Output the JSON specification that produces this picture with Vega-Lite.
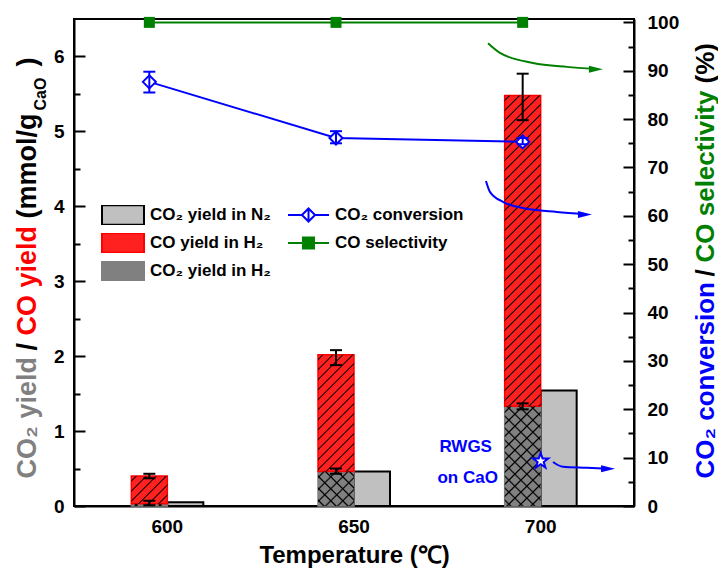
{
"$schema": "https://vega.github.io/schema/vega-lite/v6.json",
"width": 560, "height": 487,
"autosize": {"type": "none"},
"padding": {"left": 74, "top": 19, "right": 84, "bottom": 68},
"background": "white",
"config": {
 "font": "Liberation Sans",
 "view": {"stroke": "black", "strokeWidth": 2},
 "axis": {"labelFont": "Liberation Sans", "labelFontWeight": "bold", "labelFontSize": 19, "labelColor": "black", "titleFont": "Liberation Sans", "titleFontWeight": "bold", "titleFontSize": 27, "titleColor": "black", "domainColor": "black", "domainWidth": 2, "tickColor": "black", "tickWidth": 2, "grid": false},
 "legend": {"labelFont": "Liberation Sans", "labelFontWeight": "bold", "labelFontSize": 17, "labelColor": "black", "padding": 0, "labelLimit": 300}
},
"datasets": {
 "bars": [
  {"T":"600","cond":"N2","series":"CO₂ yield in N₂","value":0.05},
  {"T":"650","cond":"N2","series":"CO₂ yield in N₂","value":0.46},
  {"T":"700","cond":"N2","series":"CO₂ yield in N₂","value":1.54},
  {"T":"600","cond":"H2","series":"CO₂ yield in H₂","value":0.03},
  {"T":"650","cond":"H2","series":"CO₂ yield in H₂","value":0.46},
  {"T":"700","cond":"H2","series":"CO₂ yield in H₂","value":1.33},
  {"T":"600","cond":"H2","series":"CO yield in H₂","value":0.37},
  {"T":"650","cond":"H2","series":"CO yield in H₂","value":1.56},
  {"T":"700","cond":"H2","series":"CO yield in H₂","value":4.15}
 ],
 "barerr": [
  {"T":"600","cond":"H2","lo":0.01,"hi":0.07},
  {"T":"600","cond":"H2","lo":0.37,"hi":0.43},
  {"T":"650","cond":"H2","lo":0.43,"hi":0.50},
  {"T":"650","cond":"H2","lo":1.88,"hi":2.08},
  {"T":"700","cond":"H2","lo":1.29,"hi":1.37},
  {"T":"700","cond":"H2","lo":5.15,"hi":5.77}
 ],
 "lines": [
  {"T":"600","cond":"H2","series":"CO₂ conversion","pct":87.7,"lo":85.5,"hi":89.8},
  {"T":"650","cond":"H2","series":"CO₂ conversion","pct":76.1,"lo":75.0,"hi":77.5},
  {"T":"700","cond":"H2","series":"CO₂ conversion","pct":75.3,"lo":74.8,"hi":76.1},
  {"T":"600","cond":"H2","series":"CO selectivity","pct":100},
  {"T":"650","cond":"H2","series":"CO selectivity","pct":100},
  {"T":"700","cond":"H2","series":"CO selectivity","pct":100}
 ],
 "rwgs": [{"T":"700","line1":"RWGS","line2":"on CaO","pct":9.3}],
 "arrows": [
  {"id":"g","x":2.218,"y":95.7},{"id":"g","x":2.282,"y":93.7},{"id":"g","x":2.459,"y":91.6},{"id":"g","x":2.641,"y":90.8},{"id":"g","x":2.791,"y":90.4},
  {"id":"b1","x":2.207,"y":67.2},{"id":"b1","x":2.229,"y":64.9},{"id":"b1","x":2.298,"y":62.9},{"id":"b1","x":2.405,"y":61.6},{"id":"b1","x":2.587,"y":60.8},{"id":"b1","x":2.737,"y":60.4},
  {"id":"b2","x":2.566,"y":9.1},{"id":"b2","x":2.62,"y":8.1},{"id":"b2","x":2.748,"y":7.9},{"id":"b2","x":2.861,"y":7.7}
 ],
 "heads": [
  {"id":"g","x":2.796,"y":90.3},{"id":"b1","x":2.737,"y":60.3},{"id":"b2","x":2.861,"y":7.7}
 ]
},
"layer": [
 {
  "data": {"name": "bars"},
  "transform": [{"stack": "value", "groupby": ["T","cond"], "sort": [{"field": "series", "order": "descending"}], "as": ["v0","v1"]}],
  "encoding": {
   "x": {"field": "T", "type": "nominal", "scale": {"domain": ["600","650","700"], "paddingInner": 0.6143, "paddingOuter": 0.30715}, "axis": {"title": "Temperature (℃)", "titleFontSize": 24, "labelAngle": 0, "ticks": false, "labelPadding": 11, "titlePadding": 7}},
   "xOffset": {"field": "cond", "type": "nominal", "scale": {"domain": ["H2","N2"], "paddingInner": 0, "paddingOuter": 0}},
   "y": {"field": "v0", "type": "quantitative", "scale": {"domain": [0, 6.5], "nice": false}, "axis": {"values": [0,1,2,3,4,5,6], "tickSize": -11, "labelPadding": 21, "title": "CO₂ yield", "titleColor": "#808080", "titleX": -39, "titleY": 459, "titleAngle": 270, "titleAlign": "left", "titleBaseline": "alphabetic"}},
   "y2": {"field": "v1"}
  },
  "layer": [
   {
    "transform": [{"filter": "datum.cond === 'N2'"}],
    "mark": {"type": "bar", "strokeWidth": 2},
    "encoding": {
     "fill": {"field": "series", "type": "nominal", "scale": {"domain": ["CO₂ yield in N₂","CO yield in H₂","CO₂ yield in H₂"], "range": ["#c0c0c0","#ff2020","#808080"]}, "legend": {"orient": "none", "legendX": 27, "legendY": 186, "title": null, "symbolType": "M-1,-0.47H1V0.47H-1Z", "symbolSize": 1764, "clipHeight": 20, "rowPadding": 8, "labelOffset": 5, "symbolStrokeWidth": 2}},
     "stroke": {"field": "series", "type": "nominal", "scale": {"domain": ["CO₂ yield in N₂","CO yield in H₂","CO₂ yield in H₂"], "range": ["black","#ff0000","#808080"]}, "legend": {"orient": "none", "legendX": 27, "legendY": 186, "title": null, "symbolType": "M-1,-0.47H1V0.47H-1Z", "symbolSize": 1764, "clipHeight": 20, "rowPadding": 8, "labelOffset": 5, "symbolStrokeWidth": 2}}
    }
   },
   {
    "transform": [{"filter": "datum.cond === 'H2'"}],
    "mark": {"type": "bar", "strokeWidth": 1.5},
    "encoding": {
     "fill": {"field": "series", "type": "nominal", "scale": {"domain": ["CO₂ yield in N₂","CO yield in H₂","CO₂ yield in H₂"], "range": ["#c0c0c0","#ff2020","#808080"]}},
     "stroke": {"field": "series", "type": "nominal", "scale": {"domain": ["CO₂ yield in N₂","CO yield in H₂","CO₂ yield in H₂"], "range": ["black","#ff0000","#808080"]}}
    }
   },
   {
    "transform": [{"filter": "datum.cond === 'H2'"}],
    "mark": {"type": "bar", "strokeWidth": 0, "fill": {"expr": "{gradient:'linear',x1:0,y1:0,x2:36*(datum.series=='CO yield in H₂'?350:420)/(1296+pow((datum.v1-datum.v0)*74.923,2)),y2:(datum.v1-datum.v0)*74.923*(datum.series=='CO yield in H₂'?350:420)/(1296+pow((datum.v1-datum.v0)*74.923,2)),stops:[{offset:0.0103,color:'rgba(0,0,0,0)'},{offset:0.0143,color:'#000'},{offset:0.0183,color:'rgba(0,0,0,0)'},{offset:0.0389,color:'rgba(0,0,0,0)'},{offset:0.0429,color:'#000'},{offset:0.0469,color:'rgba(0,0,0,0)'},{offset:0.0674,color:'rgba(0,0,0,0)'},{offset:0.0714,color:'#000'},{offset:0.0754,color:'rgba(0,0,0,0)'},{offset:0.096,color:'rgba(0,0,0,0)'},{offset:0.1,color:'#000'},{offset:0.104,color:'rgba(0,0,0,0)'},{offset:0.1246,color:'rgba(0,0,0,0)'},{offset:0.1286,color:'#000'},{offset:0.1326,color:'rgba(0,0,0,0)'},{offset:0.1531,color:'rgba(0,0,0,0)'},{offset:0.1571,color:'#000'},{offset:0.1611,color:'rgba(0,0,0,0)'},{offset:0.1817,color:'rgba(0,0,0,0)'},{offset:0.1857,color:'#000'},{offset:0.1897,color:'rgba(0,0,0,0)'},{offset:0.2103,color:'rgba(0,0,0,0)'},{offset:0.2143,color:'#000'},{offset:0.2183,color:'rgba(0,0,0,0)'},{offset:0.2389,color:'rgba(0,0,0,0)'},{offset:0.2429,color:'#000'},{offset:0.2469,color:'rgba(0,0,0,0)'},{offset:0.2674,color:'rgba(0,0,0,0)'},{offset:0.2714,color:'#000'},{offset:0.2754,color:'rgba(0,0,0,0)'},{offset:0.296,color:'rgba(0,0,0,0)'},{offset:0.3,color:'#000'},{offset:0.304,color:'rgba(0,0,0,0)'},{offset:0.3246,color:'rgba(0,0,0,0)'},{offset:0.3286,color:'#000'},{offset:0.3326,color:'rgba(0,0,0,0)'},{offset:0.3531,color:'rgba(0,0,0,0)'},{offset:0.3571,color:'#000'},{offset:0.3611,color:'rgba(0,0,0,0)'},{offset:0.3817,color:'rgba(0,0,0,0)'},{offset:0.3857,color:'#000'},{offset:0.3897,color:'rgba(0,0,0,0)'},{offset:0.4103,color:'rgba(0,0,0,0)'},{offset:0.4143,color:'#000'},{offset:0.4183,color:'rgba(0,0,0,0)'},{offset:0.4389,color:'rgba(0,0,0,0)'},{offset:0.4429,color:'#000'},{offset:0.4469,color:'rgba(0,0,0,0)'},{offset:0.4674,color:'rgba(0,0,0,0)'},{offset:0.4714,color:'#000'},{offset:0.4754,color:'rgba(0,0,0,0)'},{offset:0.496,color:'rgba(0,0,0,0)'},{offset:0.5,color:'#000'},{offset:0.504,color:'rgba(0,0,0,0)'},{offset:0.5246,color:'rgba(0,0,0,0)'},{offset:0.5286,color:'#000'},{offset:0.5326,color:'rgba(0,0,0,0)'},{offset:0.5531,color:'rgba(0,0,0,0)'},{offset:0.5571,color:'#000'},{offset:0.5611,color:'rgba(0,0,0,0)'},{offset:0.5817,color:'rgba(0,0,0,0)'},{offset:0.5857,color:'#000'},{offset:0.5897,color:'rgba(0,0,0,0)'},{offset:0.6103,color:'rgba(0,0,0,0)'},{offset:0.6143,color:'#000'},{offset:0.6183,color:'rgba(0,0,0,0)'},{offset:0.6389,color:'rgba(0,0,0,0)'},{offset:0.6429,color:'#000'},{offset:0.6469,color:'rgba(0,0,0,0)'},{offset:0.6674,color:'rgba(0,0,0,0)'},{offset:0.6714,color:'#000'},{offset:0.6754,color:'rgba(0,0,0,0)'},{offset:0.696,color:'rgba(0,0,0,0)'},{offset:0.7,color:'#000'},{offset:0.704,color:'rgba(0,0,0,0)'},{offset:0.7246,color:'rgba(0,0,0,0)'},{offset:0.7286,color:'#000'},{offset:0.7326,color:'rgba(0,0,0,0)'},{offset:0.7531,color:'rgba(0,0,0,0)'},{offset:0.7571,color:'#000'},{offset:0.7611,color:'rgba(0,0,0,0)'},{offset:0.7817,color:'rgba(0,0,0,0)'},{offset:0.7857,color:'#000'},{offset:0.7897,color:'rgba(0,0,0,0)'},{offset:0.8103,color:'rgba(0,0,0,0)'},{offset:0.8143,color:'#000'},{offset:0.8183,color:'rgba(0,0,0,0)'},{offset:0.8389,color:'rgba(0,0,0,0)'},{offset:0.8429,color:'#000'},{offset:0.8469,color:'rgba(0,0,0,0)'},{offset:0.8674,color:'rgba(0,0,0,0)'},{offset:0.8714,color:'#000'},{offset:0.8754,color:'rgba(0,0,0,0)'},{offset:0.896,color:'rgba(0,0,0,0)'},{offset:0.9,color:'#000'},{offset:0.904,color:'rgba(0,0,0,0)'},{offset:0.9246,color:'rgba(0,0,0,0)'},{offset:0.9286,color:'#000'},{offset:0.9326,color:'rgba(0,0,0,0)'},{offset:0.9531,color:'rgba(0,0,0,0)'},{offset:0.9571,color:'#000'},{offset:0.9611,color:'rgba(0,0,0,0)'},{offset:0.9817,color:'rgba(0,0,0,0)'},{offset:0.9857,color:'#000'},{offset:0.9897,color:'rgba(0,0,0,0)'}]}"}}
   },
   {
    "transform": [{"filter": "datum.series === 'CO₂ yield in H₂'"}],
    "mark": {"type": "bar", "strokeWidth": 0, "fill": {"expr": "{gradient:'linear',x1:0,y1:1,x2:36*420/(1296+pow((datum.v1-datum.v0)*74.923,2)),y2:1-(datum.v1-datum.v0)*74.923*420/(1296+pow((datum.v1-datum.v0)*74.923,2)),stops:[{offset:0.0103,color:'rgba(0,0,0,0)'},{offset:0.0143,color:'#000'},{offset:0.0183,color:'rgba(0,0,0,0)'},{offset:0.0389,color:'rgba(0,0,0,0)'},{offset:0.0429,color:'#000'},{offset:0.0469,color:'rgba(0,0,0,0)'},{offset:0.0674,color:'rgba(0,0,0,0)'},{offset:0.0714,color:'#000'},{offset:0.0754,color:'rgba(0,0,0,0)'},{offset:0.096,color:'rgba(0,0,0,0)'},{offset:0.1,color:'#000'},{offset:0.104,color:'rgba(0,0,0,0)'},{offset:0.1246,color:'rgba(0,0,0,0)'},{offset:0.1286,color:'#000'},{offset:0.1326,color:'rgba(0,0,0,0)'},{offset:0.1531,color:'rgba(0,0,0,0)'},{offset:0.1571,color:'#000'},{offset:0.1611,color:'rgba(0,0,0,0)'},{offset:0.1817,color:'rgba(0,0,0,0)'},{offset:0.1857,color:'#000'},{offset:0.1897,color:'rgba(0,0,0,0)'},{offset:0.2103,color:'rgba(0,0,0,0)'},{offset:0.2143,color:'#000'},{offset:0.2183,color:'rgba(0,0,0,0)'},{offset:0.2389,color:'rgba(0,0,0,0)'},{offset:0.2429,color:'#000'},{offset:0.2469,color:'rgba(0,0,0,0)'},{offset:0.2674,color:'rgba(0,0,0,0)'},{offset:0.2714,color:'#000'},{offset:0.2754,color:'rgba(0,0,0,0)'},{offset:0.296,color:'rgba(0,0,0,0)'},{offset:0.3,color:'#000'},{offset:0.304,color:'rgba(0,0,0,0)'},{offset:0.3246,color:'rgba(0,0,0,0)'},{offset:0.3286,color:'#000'},{offset:0.3326,color:'rgba(0,0,0,0)'},{offset:0.3531,color:'rgba(0,0,0,0)'},{offset:0.3571,color:'#000'},{offset:0.3611,color:'rgba(0,0,0,0)'},{offset:0.3817,color:'rgba(0,0,0,0)'},{offset:0.3857,color:'#000'},{offset:0.3897,color:'rgba(0,0,0,0)'}]}"}}
   },
   {
    "data": {"name": "barerr"},
    "mark": {"type": "rule", "color": "black", "strokeWidth": 2},
    "encoding": {"y": {"field": "lo", "type": "quantitative"}, "y2": {"field": "hi"}}
   },
   {
    "data": {"name": "barerr"},
    "mark": {"type": "tick", "color": "black", "thickness": 2, "size": 12, "opacity": 1},
    "encoding": {"y": {"field": "lo", "type": "quantitative"}, "y2": null}
   },
   {
    "data": {"name": "barerr"},
    "mark": {"type": "tick", "color": "black", "thickness": 2, "size": 12, "opacity": 1},
    "encoding": {"y": {"field": "hi", "type": "quantitative"}, "y2": null}
   }
  ]
 },
 {
  "data": {"name": "lines"},
  "encoding": {
   "x": {"field": "T", "type": "nominal", "scale": {"domain": ["600","650","700"], "paddingInner": 0.6143, "paddingOuter": 0.30715}, "axis": null},
   "y": {"field": "pct", "type": "quantitative", "scale": {"domain": [0, 100.7], "nice": false}, "axis": {"orient": "right", "values": [0,10,20,30,40,50,60,70,80,90,100], "tickSize": -11, "labelPadding": 24, "title": "CO₂ conversion", "titleFontSize": 26, "titleColor": "#0000ff", "titleX": 79, "titleY": 459, "titleAngle": 270, "titleAlign": "left", "titleBaseline": "alphabetic"}}
  },
  "layer": [
   {
    "mark": {"type": "line", "strokeWidth": 2},
    "encoding": {
     "xOffset": {"field": "cond", "type": "nominal", "scale": {"domain": ["H2","N2"], "paddingInner": 0, "paddingOuter": 0}},
     "stroke": {"field": "series", "type": "nominal", "scale": {"domain": ["CO₂ conversion","CO selectivity"], "range": ["#0000ff","#008000"]}, "legend": {"orient": "none", "legendX": 213, "legendY": 186, "title": null, "symbolType": "M-1,0H1", "symbolSize": 1681, "clipHeight": 20, "rowPadding": 8, "labelOffset": 5, "symbolStrokeWidth": 2,
       "encode": {"symbols": {"update": {
         "shape": {"signal": "datum.value === 'CO selectivity' ? 'M-1,0H1M-0.27,-0.27H0.27V0.27H-0.27Z' : 'M-1,0H-0.32M0.32,0H1M-0.32,0L0,-0.32L0.32,0L0,0.32ZM0,-0.32V0.32'"},
         "fill": {"signal": "datum.value === 'CO selectivity' ? '#008000' : 'white'"},
         "strokeWidth": {"value": 2}}}}}}
    }
   },
   {
    "transform": [{"filter": "datum.series === 'CO selectivity'"}],
    "mark": {"type": "point", "shape": "square", "filled": true, "color": "#008000", "size": 121, "opacity": 1},
    "encoding": {"xOffset": {"field": "cond", "type": "nominal", "scale": {"domain": ["H2","N2"], "paddingInner": 0, "paddingOuter": 0}}}
   },
   {
    "transform": [{"filter": "datum.series === 'CO₂ conversion'"}],
    "mark": {"type": "point", "shape": "diamond", "filled": true, "fill": "white", "stroke": "#0000ff", "strokeWidth": 2, "size": 170, "opacity": 1},
    "encoding": {"xOffset": {"field": "cond", "type": "nominal", "scale": {"domain": ["H2","N2"], "paddingInner": 0, "paddingOuter": 0}}}
   },
   {
    "transform": [{"filter": "datum.series === 'CO₂ conversion'"}],
    "mark": {"type": "rule", "color": "#0000ff", "strokeWidth": 2},
    "encoding": {
     "xOffset": {"field": "cond", "type": "nominal", "scale": {"domain": ["H2","N2"], "paddingInner": 0, "paddingOuter": 0}},
     "y": {"field": "lo", "type": "quantitative"},
     "y2": {"field": "hi"}
    }
   },
   {
    "transform": [{"filter": "datum.series === 'CO₂ conversion'"}],
    "mark": {"type": "tick", "color": "#0000ff", "thickness": 2, "size": 12, "opacity": 1},
    "encoding": {
     "xOffset": {"field": "cond", "type": "nominal", "scale": {"domain": ["H2","N2"], "paddingInner": 0, "paddingOuter": 0}},
     "y": {"field": "lo", "type": "quantitative"}
    }
   },
   {
    "transform": [{"filter": "datum.series === 'CO₂ conversion'"}],
    "mark": {"type": "tick", "color": "#0000ff", "thickness": 2, "size": 12, "opacity": 1},
    "encoding": {
     "xOffset": {"field": "cond", "type": "nominal", "scale": {"domain": ["H2","N2"], "paddingInner": 0, "paddingOuter": 0}},
     "y": {"field": "hi", "type": "quantitative"}
    }
   },
   {
    "data": {"name": "rwgs"},
    "mark": {"type": "point", "shape": "M0,-1L0.235,-0.324L0.951,-0.309L0.38,0.124L0.588,0.809L0,0.4L-0.588,0.809L-0.38,0.124L-0.951,-0.309L-0.235,-0.324Z", "filled": true, "fill": "white", "stroke": "#0000ff", "strokeWidth": 2, "size": 260, "opacity": 1}
   },
   {
    "data": {"name": "rwgs"},
    "mark": {"type": "text", "color": "#0000ff", "font": "Liberation Sans", "fontWeight": "bold", "fontSize": 17, "dx": -75, "dy": -14, "align": "center", "baseline": "middle"},
    "encoding": {"text": {"field": "line1"}}
   },
   {
    "data": {"name": "rwgs"},
    "mark": {"type": "text", "color": "#0000ff", "font": "Liberation Sans", "fontWeight": "bold", "fontSize": 17, "dx": -73, "dy": 17, "align": "center", "baseline": "middle"},
    "encoding": {"text": {"field": "line2"}}
   }
  ]
 },
 {
  "encoding": {
   "x": {"field": "x", "type": "quantitative", "scale": {"domain": [0, 3], "nice": false, "zero": false}, "axis": null},
   "y": {"field": "y", "type": "quantitative", "scale": {"domain": [0, 100.7], "nice": false}, "axis": {"orient": "left", "labels": false, "ticks": false, "domain": false, "title": ")", "titleX": -39, "titleY": 47, "titleAngle": 270, "titleAlign": "left", "titleBaseline": "alphabetic"}},
   "color": {"field": "id", "type": "nominal", "scale": {"domain": ["g","b1","b2"], "range": ["#008000","#0000ff","#0000ff"]}, "legend": null}
  },
  "layer": [
   {"data": {"name": "arrows"}, "mark": {"type": "line", "strokeWidth": 2, "interpolate": "monotone"}},
   {"data": {"name": "heads"}, "mark": {"type": "point", "shape": "M-1,-0.5L1,0L-1,0.5Z", "filled": true, "size": 196, "opacity": 1}}
  ]
 },
 {"mark": {"type": "rule", "opacity": 0}, "encoding": {"y": {"datum": 0, "type": "quantitative", "scale": {"domain": [0, 6.5], "nice": false}, "axis": {"orient": "left", "values": [0.5,1.5,2.5,3.5,4.5,5.5], "tickSize": -6, "labels": false, "domain": false, "title": "/", "titleX": -39, "titleY": 331, "titleAngle": 270, "titleAlign": "left", "titleBaseline": "alphabetic"}}}},
 {"mark": {"type": "rule", "opacity": 0}, "encoding": {"y": {"datum": 0, "type": "quantitative", "scale": {"domain": [0, 6.5], "nice": false}, "axis": {"orient": "left", "labels": false, "ticks": false, "domain": false, "title": "CO yield", "titleColor": "#ff0000", "titleX": -39, "titleY": 316, "titleAngle": 270, "titleAlign": "left", "titleBaseline": "alphabetic"}}}},
 {"mark": {"type": "rule", "opacity": 0}, "encoding": {"y": {"datum": 0, "type": "quantitative", "scale": {"domain": [0, 6.5], "nice": false}, "axis": {"orient": "left", "labels": false, "ticks": false, "domain": false, "title": "(mmol/g", "titleX": -39, "titleY": 199, "titleAngle": 270, "titleAlign": "left", "titleBaseline": "alphabetic"}}}},
 {"mark": {"type": "rule", "opacity": 0}, "encoding": {"y": {"datum": 0, "type": "quantitative", "scale": {"domain": [0, 6.5], "nice": false}, "axis": {"orient": "left", "labels": false, "ticks": false, "domain": false, "title": "CaO", "titleFontSize": 16, "titleX": -29, "titleY": 91, "titleAngle": 270, "titleAlign": "left", "titleBaseline": "alphabetic"}}}},
 {"mark": {"type": "rule", "opacity": 0}, "encoding": {"y": {"datum": 0, "type": "quantitative", "scale": {"domain": [0, 100.7], "nice": false}, "axis": {"orient": "right", "values": [5,15,25,35,45,55,65,75,85,95], "tickSize": -6, "labels": false, "domain": false, "title": "/", "titleFontSize": 26, "titleX": 79, "titleY": 257, "titleAngle": 270, "titleAlign": "left", "titleBaseline": "alphabetic"}}}},
 {"mark": {"type": "rule", "opacity": 0}, "encoding": {"y": {"datum": 0, "type": "quantitative", "scale": {"domain": [0, 100.7], "nice": false}, "axis": {"orient": "right", "labels": false, "ticks": false, "domain": false, "title": "CO selectivity", "titleFontSize": 26, "titleColor": "#008000", "titleX": 79, "titleY": 243, "titleAngle": 270, "titleAlign": "left", "titleBaseline": "alphabetic"}}}},
 {"mark": {"type": "rule", "opacity": 0}, "encoding": {"y": {"datum": 0, "type": "quantitative", "scale": {"domain": [0, 100.7], "nice": false}, "axis": {"orient": "right", "labels": false, "ticks": false, "domain": false, "title": "(%)", "titleFontSize": 26, "titleX": 79, "titleY": 64, "titleAngle": 270, "titleAlign": "left", "titleBaseline": "alphabetic"}}}}
],
"resolve": {"scale": {"x": "independent", "y": "independent", "xOffset": "independent", "fill": "independent", "stroke": "independent", "color": "independent"}}
}
